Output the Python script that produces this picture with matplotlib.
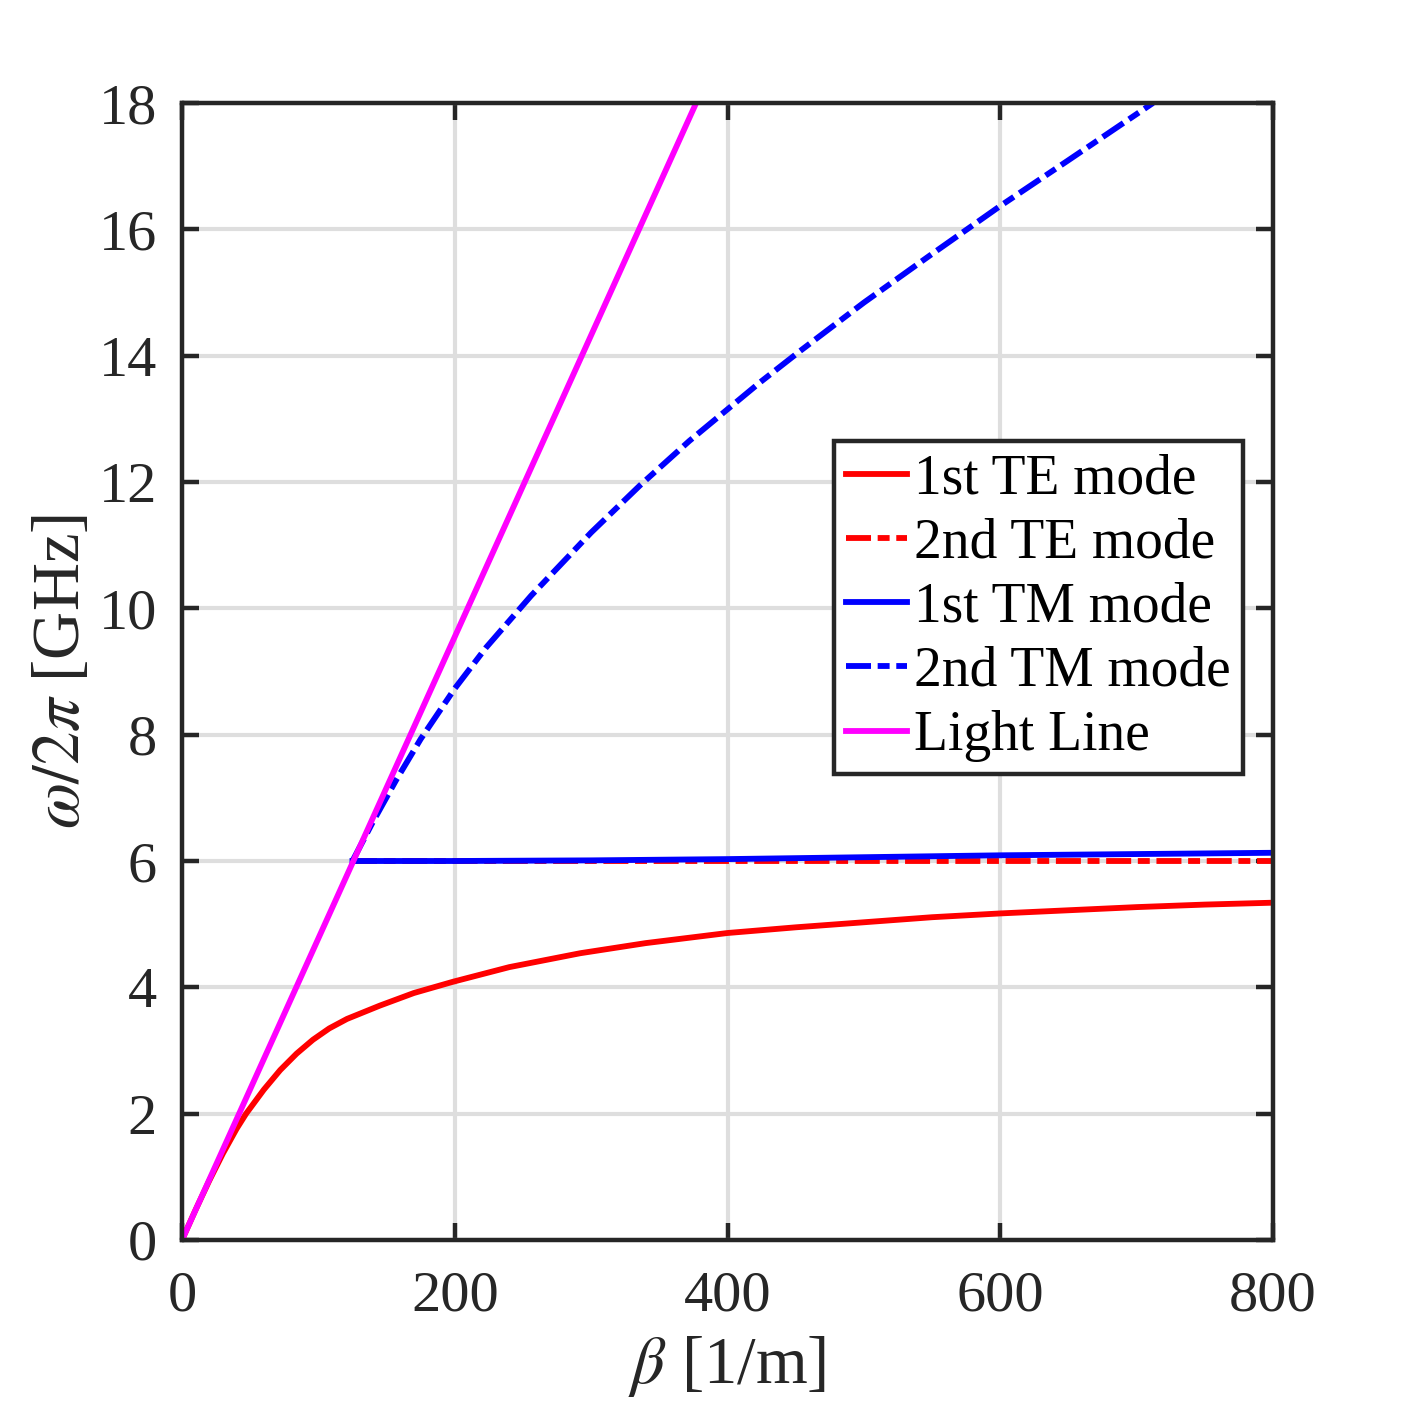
import matplotlib
matplotlib.use("Agg")
from matplotlib import pyplot as plt

# 字体：Times 风格
plt.rcParams['font.family'] = ['Liberation Serif', 'DejaVu Serif']
plt.rcParams['mathtext.fontset'] = 'stix'
plt.rcParams['lines.scale_dashes'] = False

# 1st TE mode
te1_beta = [0, 10, 20, 30, 40, 47, 60, 72, 84, 96, 108, 121, 145, 170, 199, 240, 292,
            340, 400, 450, 500, 550, 600, 650, 700, 750, 800]
te1_f = [0, 0.48, 0.94, 1.37, 1.76, 2.0, 2.38, 2.69, 2.95, 3.17, 3.35, 3.5, 3.71, 3.91, 4.09,
         4.32, 4.54, 4.70, 4.86, 4.95, 5.03, 5.11, 5.17, 5.22, 5.27, 5.31, 5.34]
# 2nd TE mode
te2_beta = [125, 400, 800]
te2_f = [6.0, 6.0, 6.0]
# 1st TM mode
tm1_beta = [125, 200, 300, 400, 500, 600, 700, 800]
tm1_f = [6.0, 6.0, 6.01, 6.03, 6.06, 6.09, 6.11, 6.13]
# 2nd TM mode
tm2_beta = [125, 140, 157, 175, 200, 223, 256, 300, 336, 372, 424, 453, 500, 548, 600, 649, 712]
tm2_f = [6.0, 6.62, 7.28, 7.93, 8.73, 9.38, 10.2, 11.2, 11.95, 12.65, 13.58, 14.07, 14.84,
         15.58, 16.37, 17.08, 18.0]
# Light line
light_beta = [0, 377]
light_f = [0, 18]

labels = ["1st TE mode", "2nd TE mode", "1st TM mode", "2nd TM mode", "Light Line"]

fig = plt.figure(figsize=(7.035, 7.035), dpi=200)
ax = fig.add_axes([182/1407, 167/1407, (1273-182)/1407, (1240-103)/1407])

lw = 2.1
dashdot = (9, 2.4, 4.3, 2.4)
ax.plot(te1_beta, te1_f, color="r", linewidth=lw, label=labels[0])
ax.plot(te2_beta, te2_f, color="r", linewidth=lw, linestyle=(0, dashdot), label=labels[1])
ax.plot(tm1_beta, tm1_f, color="b", linewidth=lw, label=labels[2])
ax.plot(tm2_beta, tm2_f, color="b", linewidth=lw, linestyle=(0, dashdot), label=labels[3])
ax.plot(light_beta, light_f, color="#ff00ff", linewidth=lw, label=labels[4])

ax.set_xlim(0, 800)
ax.set_ylim(0, 18)
ax.set_xticks(range(0, 801, 200))
ax.set_yticks(range(0, 19, 2))

ax.grid(True, color="#dedede", linewidth=1.5)
ax.set_axisbelow(True)

frame_c = "#262626"
for s in ax.spines.values():
    s.set_color(frame_c)
    s.set_linewidth(1.6)
ax.tick_params(direction="in", length=6, width=1.6, color=frame_c,
               top=True, right=True, labelsize=21, labelcolor=frame_c)
ax.tick_params(axis="x", pad=11)
ax.tick_params(axis="y", pad=9)

ax.set_xlabel(r"$\beta$ [1/m]", fontsize=24, color=frame_c, labelpad=4)
ax.set_ylabel(r"$\omega/2\pi$ [GHz]", fontsize=24, color=frame_c, labelpad=2)

leg = ax.legend(loc="upper right", bbox_to_anchor=(1243/1407, 1 - 441/1407),
                bbox_transform=fig.transFigure, fontsize=20, frameon=True,
                fancybox=False, handlelength=1.1, handletextpad=0.12,
                labelspacing=0.22, borderpad=0.22, borderaxespad=0)
leg.get_frame().set_edgecolor(frame_c)
leg.get_frame().set_linewidth(1.6)
leg.get_frame().set_alpha(1)

plt.savefig("out.png", dpi=200)
